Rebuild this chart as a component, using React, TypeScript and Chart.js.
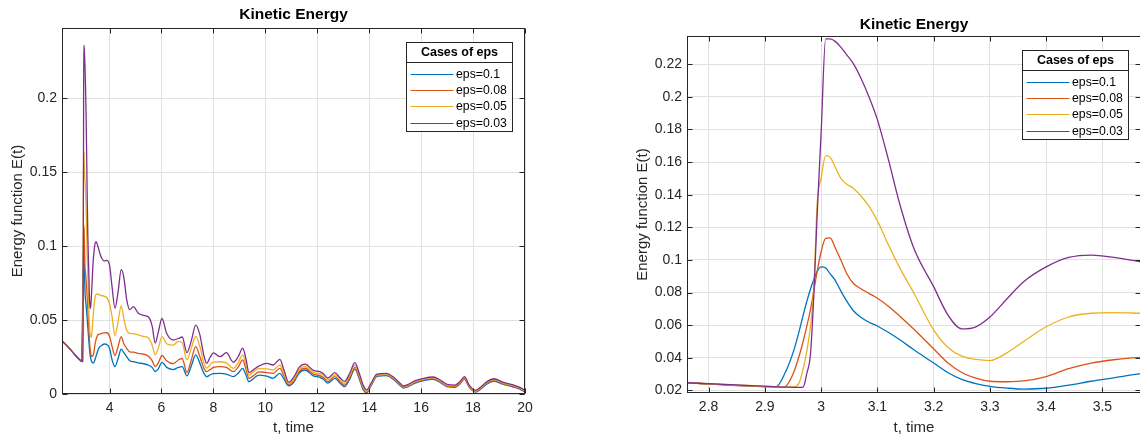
import React, { useEffect, useRef } from "react";
import { Chart, registerables } from "chart.js";

Chart.register(...registerables);

const FONT = "'Liberation Sans', Arial, Helvetica, sans-serif";
const AXIS_COLOR = "#262626";
const GRID_COLOR = "#e1e1e1";
const TEXT_COLOR = "#262626";

// Time samples shared by every series (denser around the impulse at t = 3).
const T = [
  2.17, 2.5, 2.76, 2.92, 2.935, 2.95, 2.96, 2.968, 2.975, 2.981,
  2.987, 2.993, 3.0, 3.008, 3.016, 3.025, 3.035, 3.045, 3.057, 3.07,
  3.085, 3.1, 3.12, 3.14, 3.165, 3.2, 3.225, 3.25, 3.275, 3.3,
  3.33, 3.36, 3.4, 3.44, 3.48, 3.52, 3.57,
  3.63, 3.7, 3.8, 3.89, 4.0, 4.1, 4.21, 4.33, 4.45, 4.55,
  4.66, 4.78, 4.92, 5.1, 5.3, 5.5, 5.64, 5.76, 5.88, 6.02,
  6.2, 6.45, 6.65, 6.8, 6.98, 7.15, 7.32, 7.48, 7.62, 7.74,
  7.88, 8.0, 8.25, 8.5, 8.77, 8.95, 9.13, 9.25, 9.37, 9.55,
  9.75, 10.05, 10.3, 10.56, 10.72, 10.9, 11.1, 11.3, 11.53, 11.85,
  12.1, 12.25, 12.4, 12.68, 12.85, 13.05, 13.25, 13.45, 13.62, 13.78,
  13.9, 14.05, 14.3, 14.65, 14.95, 15.15, 15.32, 15.5, 15.75, 16.1,
  16.45, 16.75, 17.0, 17.3, 17.5, 17.67, 17.85, 18.1, 18.3, 18.55,
  18.8, 19.15, 19.55, 19.8, 20.0,
];

// Kinetic energy E(t) for eps = 0.1
const E_EPS_01 = [
  0.036, 0.030, 0.0247, 0.0222, 0.0300, 0.043, 0.055, 0.066, 0.075, 0.082,
  0.088, 0.093, 0.0957, 0.095, 0.0915, 0.0875, 0.081, 0.075, 0.069, 0.065,
  0.0618, 0.0595, 0.0555, 0.051, 0.0449, 0.0368, 0.031, 0.0268, 0.0242, 0.0225,
  0.0214, 0.0208, 0.0213, 0.0232, 0.0256, 0.0277, 0.0303,
  0.032, 0.0328, 0.0338, 0.0335, 0.031, 0.023, 0.0185, 0.024, 0.0303, 0.028,
  0.0252, 0.0225, 0.0218, 0.021, 0.0205, 0.0195, 0.018, 0.0152, 0.017, 0.0214,
  0.018, 0.0165, 0.018, 0.0185, 0.0122, 0.019, 0.0264, 0.0207, 0.0145, 0.0117,
  0.013, 0.0138, 0.014, 0.0135, 0.0117, 0.014, 0.0173, 0.013, 0.0083, 0.0105,
  0.0128, 0.012, 0.0106, 0.014, 0.010, 0.0055, 0.0080, 0.0140, 0.0162, 0.0122,
  0.0113, 0.0098, 0.0073, 0.0106, 0.0078, 0.0050, 0.0100, 0.0168, 0.0100, 0.0025,
  0.0008, 0.0048, 0.0119, 0.0124, 0.0096, 0.0064, 0.0040, 0.0050, 0.0072, 0.0090,
  0.0099, 0.0077, 0.0050, 0.0045, 0.0069, 0.0100, 0.0046, 0.0013, 0.0034, 0.0070,
  0.0088, 0.0066, 0.0047, 0.0032, 0.0014,
];

// Kinetic energy E(t) for eps = 0.08
const E_EPS_008 = [
  0.036, 0.030, 0.0247, 0.0222, 0.0222, 0.030, 0.040, 0.050, 0.060, 0.0694,
  0.081, 0.093, 0.105, 0.1132, 0.1135, 0.1075, 0.100, 0.092, 0.0857, 0.0825,
  0.0795, 0.0765, 0.0715, 0.0655, 0.0575, 0.0455, 0.037, 0.031, 0.0275, 0.0256,
  0.0253, 0.0258, 0.0285, 0.0333, 0.0367, 0.0388, 0.0403,
  0.0405, 0.041, 0.0413, 0.0414, 0.039, 0.032, 0.026, 0.032, 0.0387, 0.034,
  0.031, 0.0285, 0.0283, 0.0275, 0.027, 0.0255, 0.0225, 0.0185, 0.021, 0.026,
  0.0225, 0.0205, 0.023, 0.024, 0.0145, 0.023, 0.032, 0.0252, 0.018, 0.0151,
  0.0165, 0.018, 0.0185, 0.018, 0.0151, 0.018, 0.023, 0.017, 0.0106, 0.0125,
  0.015, 0.0145, 0.014, 0.0173, 0.012, 0.0064, 0.0090, 0.0152, 0.0174, 0.0134,
  0.0124, 0.0109, 0.0083, 0.0118, 0.0090, 0.0060, 0.0112, 0.0180, 0.0110, 0.0032,
  0.0012, 0.0053, 0.0124, 0.0129, 0.0101, 0.0069, 0.0044, 0.0054, 0.0077, 0.0095,
  0.0104, 0.0082, 0.0054, 0.0050, 0.0074, 0.0105, 0.0050, 0.0016, 0.0038, 0.0074,
  0.0092, 0.0070, 0.0051, 0.0036, 0.0018,
];

// Kinetic energy E(t) for eps = 0.05
const E_EPS_005 = [
  0.036, 0.030, 0.0247, 0.0222, 0.0221, 0.0221, 0.024, 0.033, 0.045, 0.059,
  0.082, 0.135, 0.150, 0.164, 0.163, 0.157, 0.150, 0.1465, 0.144, 0.1395,
  0.133, 0.124, 0.109, 0.095, 0.0796, 0.0571, 0.0465, 0.041, 0.039, 0.0383,
  0.043, 0.050, 0.059, 0.065, 0.0673, 0.0677, 0.0673,
  0.0668, 0.0665, 0.0660, 0.0652, 0.061, 0.052, 0.0395, 0.049, 0.0595, 0.051,
  0.043, 0.041, 0.0408, 0.040, 0.039, 0.0378, 0.033, 0.0265, 0.031, 0.0387,
  0.034, 0.033, 0.0355, 0.0345, 0.023, 0.031, 0.039, 0.032, 0.022, 0.0175,
  0.020, 0.0215, 0.0218, 0.021, 0.0173, 0.021, 0.0264, 0.020, 0.0128, 0.015,
  0.0172, 0.017, 0.0162, 0.0196, 0.0135, 0.0072, 0.0100, 0.0165, 0.0187, 0.0146,
  0.0137, 0.0121, 0.0095, 0.0130, 0.0101, 0.0072, 0.0125, 0.0195, 0.0123, 0.0042,
  0.0018, 0.0057, 0.0128, 0.0133, 0.0106, 0.0074, 0.0049, 0.0059, 0.0082, 0.0100,
  0.0109, 0.0087, 0.0059, 0.0055, 0.0079, 0.0110, 0.0054, 0.0020, 0.0043, 0.0079,
  0.0097, 0.0075, 0.0056, 0.0041, 0.0021,
];

// Kinetic energy E(t) for eps = 0.03
const E_EPS_003 = [
  0.036, 0.030, 0.0247, 0.0222, 0.0220, 0.0219, 0.0218, 0.0220, 0.031, 0.042,
  0.078, 0.128, 0.178, 0.2355, 0.2355, 0.234, 0.2305, 0.226, 0.2205, 0.212,
  0.200, 0.186, 0.161, 0.134, 0.107, 0.0836, 0.0665, 0.0577, 0.059, 0.065,
  0.076, 0.0866, 0.0957, 0.1015, 0.1030, 0.1016, 0.0987,
  0.095, 0.0917, 0.0900, 0.0903, 0.087, 0.072, 0.058, 0.069, 0.084, 0.079,
  0.064, 0.057, 0.059, 0.0548, 0.0532, 0.052, 0.046, 0.0345, 0.042, 0.051,
  0.041, 0.0365, 0.0375, 0.0385, 0.028, 0.036, 0.0466, 0.040, 0.027, 0.0207,
  0.025, 0.0278, 0.0252, 0.0279, 0.0215, 0.025, 0.031, 0.024, 0.0145, 0.0165,
  0.0188, 0.0207, 0.0196, 0.0234, 0.016, 0.0080, 0.0115, 0.018, 0.0202, 0.016,
  0.0151, 0.0135, 0.0108, 0.0144, 0.0115, 0.0085, 0.014, 0.0212, 0.0138, 0.0055,
  0.0028, 0.0065, 0.0135, 0.014, 0.0112, 0.008, 0.0054, 0.0065, 0.0088, 0.0106,
  0.0115, 0.0093, 0.0065, 0.006, 0.0085, 0.0117, 0.006, 0.0025, 0.0048, 0.0085,
  0.0103, 0.008, 0.0061, 0.0045, 0.0025,
];

const SERIES_LABELS = ["eps=0.1", "eps=0.08", "eps=0.05", "eps=0.03"];
const SERIES_COLORS = ["#0072BD", "#D95319", "#EDB120", "#7E2F8E"];
const SERIES_VALUES = [E_EPS_01, E_EPS_008, E_EPS_005, E_EPS_003];

const CHART_TITLE = "Kinetic Energy";
const X_TITLE = "t, time";
const Y_TITLE = "Energy function E(t)";
const LEGEND_TITLE = "Cases of eps";

// Tick values for the full-range panel and the zoomed panel
const FULL_X_TICKS = [4, 6, 8, 10, 12, 14, 16, 18, 20];
const FULL_Y_TICKS = [0, 0.05, 0.1, 0.15, 0.2];
const ZOOM_X_TICKS = [2.8, 2.9, 3, 3.1, 3.2, 3.3, 3.4, 3.5];
const ZOOM_Y_TICKS = [0.02, 0.04, 0.06, 0.08, 0.1, 0.12, 0.14, 0.16, 0.18, 0.2, 0.22];

type PanelSpec = {
  offsetX: number;
  width: number;
  height: number;
  plotLeft: number;
  plotRight: number;
  plotBottom: number;
  titlePad: { top: number; bottom: number };
  yTitlePad: number;
  xMin: number;
  xMax: number;
  yMin: number;
  yMax: number;
  xTicks: number[];
  yTicks: number[];
};

const FULL_PANEL: PanelSpec = {
  offsetX: 0,
  width: 570,
  height: 439,
  plotLeft: 62,
  plotRight: 525,
  plotBottom: 394,
  titlePad: { top: 5.7, bottom: 3.7 },
  yTitlePad: 8.5,
  xMin: 2.17,
  xMax: 20,
  yMin: 0,
  yMax: 0.2473,
  xTicks: FULL_X_TICKS,
  yTicks: FULL_Y_TICKS,
};

const ZOOM_PANEL: PanelSpec = {
  offsetX: 570,
  width: 572,
  height: 439,
  plotLeft: 117,
  plotRight: 571,
  plotBottom: 393,
  titlePad: { top: 15.7, bottom: 1.7 },
  yTitlePad: 63.5,
  xMin: 2.7616,
  xMax: 3.5686,
  yMin: 0.0184,
  yMax: 0.2373,
  xTicks: ZOOM_X_TICKS,
  yTicks: ZOOM_Y_TICKS,
};

function formatTick(v: number): string {
  return String(parseFloat(v.toFixed(4)));
}

// Box around the axes, inward tick marks and a titled legend box.
const axesFrame = {
  id: "axesFrame",
  afterDatasetsDraw(chart: any) {
    const { ctx, chartArea: a, scales } = chart;
    const L = Math.round(a.left) + 0.5;
    const R = Math.round(a.right) - 0.5;
    const Tp = Math.round(a.top) + 0.5;
    const B = Math.round(a.bottom) - 0.5;
    const tickLen = 5;

    ctx.save();
    ctx.strokeStyle = AXIS_COLOR;
    ctx.lineWidth = 1;
    ctx.beginPath();
    for (const t of scales.x.ticks) {
      const px = Math.round(scales.x.getPixelForValue(t.value)) + 0.5;
      ctx.moveTo(px, B);
      ctx.lineTo(px, B - tickLen);
      ctx.moveTo(px, Tp);
      ctx.lineTo(px, Tp + tickLen);
    }
    for (const t of scales.y.ticks) {
      const py = Math.round(scales.y.getPixelForValue(t.value)) + 0.5;
      ctx.moveTo(L, py);
      ctx.lineTo(L + tickLen, py);
      ctx.moveTo(R, py);
      ctx.lineTo(R - tickLen, py);
    }
    ctx.stroke();
    ctx.strokeRect(L, Tp, R - L, B - Tp);

    // legend
    const w = 106;
    const h = 89;
    const bx = Math.round(a.right - 13.5 - w) + 0.5;
    const by = Math.round(a.top + 13.5) + 0.5;
    ctx.fillStyle = "#ffffff";
    ctx.fillRect(bx, by, w, h);
    ctx.strokeStyle = AXIS_COLOR;
    ctx.strokeRect(bx, by, w, h);
    ctx.beginPath();
    ctx.moveTo(bx, by + 20);
    ctx.lineTo(bx + w, by + 20);
    ctx.stroke();

    ctx.fillStyle = "#000000";
    ctx.font = `bold 12.5px ${FONT}`;
    ctx.textAlign = "center";
    ctx.textBaseline = "middle";
    ctx.fillText(LEGEND_TITLE, bx + w / 2, by + 10.5);

    ctx.font = `12.3px ${FONT}`;
    ctx.textAlign = "left";
    chart.data.datasets.forEach((ds: any, i: number) => {
      const y = Math.round(by + 31 + i * 16.4) + 0.5;
      ctx.strokeStyle = ds.borderColor;
      ctx.lineWidth = 1.2;
      ctx.beginPath();
      ctx.moveTo(bx + 4, y);
      ctx.lineTo(bx + 47, y);
      ctx.stroke();
      ctx.fillStyle = "#000000";
      ctx.fillText(ds.label, bx + 49.5, y + 0.5);
    });
    ctx.restore();
  },
};

function Panel({ spec }: { spec: PanelSpec }) {
  const ref = useRef<HTMLCanvasElement>(null);

  useEffect(() => {
    const canvas = ref.current;
    if (!canvas) return;

    const datasets = SERIES_VALUES.map((vals, i) => ({
      label: SERIES_LABELS[i],
      data: T.map((t, j) => ({ x: t, y: vals[j] })),
      borderColor: SERIES_COLORS[i],
      backgroundColor: SERIES_COLORS[i],
      borderWidth: 1.3,
      pointRadius: 0,
      pointHoverRadius: 0,
      fill: false,
      cubicInterpolationMode: "monotone" as const,
      order: SERIES_VALUES.length - i,
    }));

    const tickFont = { family: FONT, size: 14 };
    const titleFont = { family: FONT, size: 15 };

    const chart = new Chart(canvas, {
      type: "line",
      data: { datasets },
      options: {
        animation: false,
        responsive: false,
        devicePixelRatio: 1,
        events: [],
        layout: {
          padding: { left: 0, top: 0, bottom: 0, right: spec.width - spec.plotRight },
        },
        plugins: {
          legend: { display: false },
          tooltip: { enabled: false },
          title: {
            display: true,
            text: CHART_TITLE,
            fullSize: false,
            color: "#000000",
            font: { family: FONT, size: 15.5, weight: "bold" },
            padding: spec.titlePad,
          },
        },
        scales: {
          x: {
            type: "linear",
            min: spec.xMin,
            max: spec.xMax,
            afterBuildTicks: (s: any) => {
              s.ticks = spec.xTicks.map((v) => ({ value: v }));
            },
            afterFit: (s: any) => {
              s.height = spec.height - spec.plotBottom;
            },
            grid: { color: GRID_COLOR, lineWidth: 1, drawTicks: false },
            border: { display: false },
            ticks: {
              font: tickFont,
              color: TEXT_COLOR,
              padding: 6,
              maxRotation: 0,
              autoSkip: false,
              callback: (v: any) => formatTick(Number(v)),
            },
            title: {
              display: true,
              text: X_TITLE,
              color: TEXT_COLOR,
              font: titleFont,
              padding: { top: 0, bottom: 2 },
            },
          },
          y: {
            type: "linear",
            min: spec.yMin,
            max: spec.yMax,
            afterBuildTicks: (s: any) => {
              s.ticks = spec.yTicks.map((v) => ({ value: v }));
            },
            afterFit: (s: any) => {
              s.width = spec.plotLeft;
            },
            grid: { color: GRID_COLOR, lineWidth: 1, drawTicks: false },
            border: { display: false },
            ticks: {
              font: tickFont,
              color: TEXT_COLOR,
              padding: 5,
              autoSkip: false,
              callback: (v: any) => formatTick(Number(v)),
            },
            title: {
              display: true,
              text: Y_TITLE,
              color: TEXT_COLOR,
              font: titleFont,
              padding: { top: spec.yTitlePad, bottom: 0 },
            },
          },
        },
      },
      plugins: [axesFrame],
    } as any);

    return () => chart.destroy();
  }, [spec]);

  return (
    <canvas
      ref={ref}
      width={spec.width}
      height={spec.height}
      style={{
        position: "absolute",
        left: spec.offsetX,
        top: 0,
        width: spec.width,
        height: spec.height,
      }}
    />
  );
}

export default function App() {
  return (
    <div
      style={{
        position: "fixed",
        left: 0,
        top: 0,
        width: 1140,
        height: 439,
        overflow: "hidden",
        background: "#ffffff",
      }}
    >
      <Panel spec={FULL_PANEL} />
      <Panel spec={ZOOM_PANEL} />
    </div>
  );
}
